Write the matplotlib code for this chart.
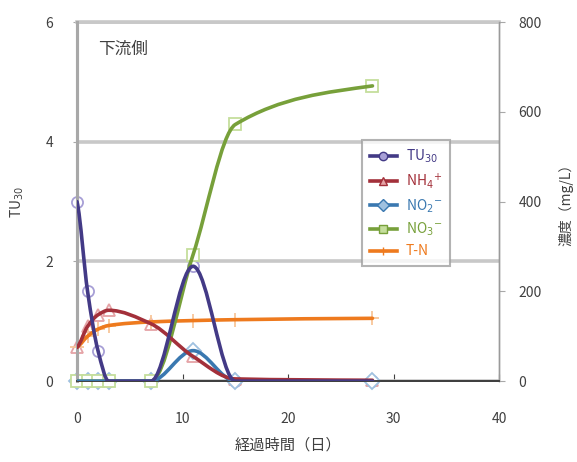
import numpy as np
import matplotlib
matplotlib.use('Agg')
import matplotlib.pyplot as plt
from matplotlib.path import Path
from matplotlib.patches import PathPatch
from matplotlib.lines import Line2D

plt.rcParams['font.family'] = ['Noto Sans CJK JP', 'DejaVu Sans']

# elapsed days
days = [0, 1, 2, 3, 7, 11, 15, 28]
# left axis
tu30 = [3.0, 1.5, 0.5, 0.0, 0.0, 1.92, 0.0, 0.0]
# right axis (mg/L)
nh4 = [75, 122, 148, 158, 128, 55, 5, 2]
no2 = [0, 0, 0, 0, 0, 68, 0, 0]
no3 = [0, 0, 0, 0, 0, 282, 572, 658]
tn = [76, 100, 116, 124, 132, 135, 137, 140]

labels = ['TU$_{30}$', 'NH$_4$$^{+}$', 'NO$_2$$^{-}$', 'NO$_3$$^{-}$', 'T-N']
line_cols = ['#433A86', '#A3303A', '#3A78B0', '#77A03A', '#EE7A1E']
mark_cols = ['#A79FD6', '#E5A3A6', '#9FC1E0', '#C5DE9C', '#F8C69A']
markers = ['o', '^', 'D', 's', '+']


def smooth_path(x, y):
    # cubic bezier pieces with monotone (pchip-like) tangents
    x = np.asarray(x, float)
    y = np.asarray(y, float)
    h = np.diff(x)
    s = np.diff(y) / h
    d = np.zeros_like(y)
    for i in range(1, len(x) - 1):
        if s[i-1] * s[i] > 0:
            w1 = 2*h[i] + h[i-1]
            w2 = h[i] + 2*h[i-1]
            d[i] = (w1 + w2) / (w1/s[i-1] + w2/s[i])
    d[0] = s[0] * 0.5
    d[-1] = s[-1] * 0.5
    verts = [(x[0], y[0])]
    codes = [Path.MOVETO]
    for i in range(len(x) - 1):
        verts += [(x[i] + h[i]/3, y[i] + d[i]*h[i]/3),
                  (x[i+1] - h[i]/3, y[i+1] - d[i+1]*h[i]/3),
                  (x[i+1], y[i+1])]
        codes += [Path.CURVE4]*3
    return Path(verts, codes)


fig = plt.figure(figsize=(5.77, 4.62), dpi=100)
ax = fig.add_axes([0.1335, 0.175, 0.7315, 0.777])
ax2 = ax.twinx()

ax.set_xlim(0, 40)
ax.set_ylim(0, 6)
ax2.set_ylim(0, 800)
ax.set_xticks([0, 10, 20, 30, 40])
ax.set_yticks([0, 2, 4, 6])
ax2.set_yticks([0, 200, 400, 600, 800])

ax.yaxis.grid(True, color='#C8C8C8', lw=2.6)
ax.set_axisbelow(True)

for a in (ax, ax2):
    a.spines['top'].set_visible(False)
    a.spines['left'].set_color('#A8A8A8')
    a.spines['left'].set_linewidth(2.2)
    a.spines['right'].set_color('#9A9A9A')
    a.spines['right'].set_linewidth(1.0)
    a.spines['bottom'].set_color('#404040')
    a.spines['bottom'].set_linewidth(1.4)
ax.spines['top'].set_visible(True)
ax.spines['top'].set_color('#C8C8C8')
ax.spines['top'].set_linewidth(2.6)

ax.tick_params(axis='x', direction='in', length=5, color='#404040',
               labelsize=10, labelcolor='#404040', pad=22)
ax.tick_params(axis='y', direction='out', length=3, color='#A8A8A8',
               labelsize=10, labelcolor='#404040', pad=14)
ax2.tick_params(axis='y', direction='out', length=4, color='#A8A8A8',
                labelsize=10, labelcolor='#404040', pad=10)

series = [tu30, nh4, no2, no3, tn]
for k, ys in enumerate(series):
    tr = ax.transData if k == 0 else ax2.transData
    ax2.plot(days, ys, linestyle='none', marker=markers[k], ms=8 if k != 4 else 10,
             mfc='white' if k != 4 else mark_cols[k], mec=mark_cols[k], mew=1.3,
             transform=tr, zorder=2, clip_on=False)
order = [4, 3, 2, 1, 0]
for k in order:
    tr = ax.transData if k == 0 else ax2.transData
    p = PathPatch(smooth_path(days, series[k]), facecolor='none',
                  edgecolor=line_cols[k], lw=2.6, transform=tr, zorder=3,
                  capstyle='round', joinstyle='round')
    ax2.add_patch(p)

handles = [Line2D([], [], color=line_cols[k], lw=2.6, marker=markers[k],
                  ms=6, mfc=mark_cols[k], mec=line_cols[k]) for k in range(5)]
leg = ax2.legend(handles, labels, loc='upper left', bbox_to_anchor=(0.675, 0.672),
                 frameon=True, fancybox=False, edgecolor='#A0A0A0',
                 fontsize=10, handlelength=2.0, labelspacing=0.45,
                 borderpad=0.55, handletextpad=0.6, borderaxespad=0)
leg.get_frame().set_linewidth(1.5)
for txt, c in zip(leg.get_texts(), line_cols):
    txt.set_color(c)

ax.text(0.05, 0.925, '下流側', transform=ax.transAxes, fontsize=12,
        color='#404040', va='center')
ax.set_xlabel('経過時間（日）', fontsize=11, color='#404040', labelpad=8)
ax.set_ylabel('TU$_{30}$', fontsize=10, color='#404040', labelpad=14)
ax2.set_ylabel('濃度（mg/L）', fontsize=10, color='#404040', labelpad=12,
               rotation=90)

fig.savefig('out.png', dpi=100)
